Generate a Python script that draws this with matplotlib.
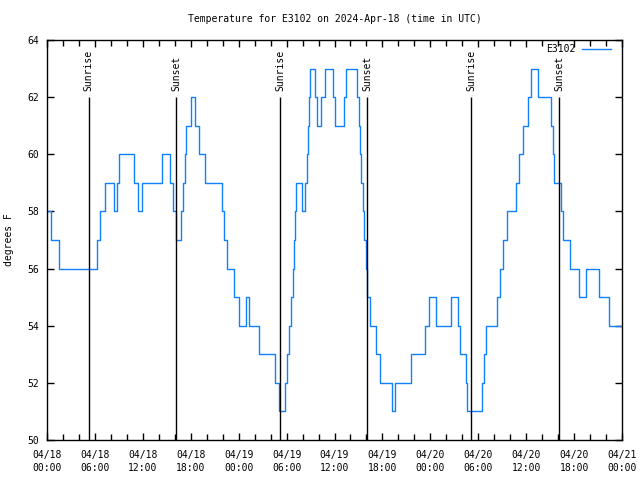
import numpy as np
import matplotlib
matplotlib.use("Agg")
import matplotlib.pyplot as plt
import matplotlib.dates as mdates
from datetime import datetime, timedelta

# hours since 2024-04-18 00:00 UTC, temperature in F
hours = [0.0, 0.38, 0.66, 1.41, 1.67, 6.14, 6.42, 6.92, 7.48, 8.23, 8.51, 8.73,
         8.89, 9.23, 10.68, 11.02, 11.23, 11.52, 11.73, 11.98, 14.24, 14.49,
         15.19, 15.49, 15.99, 16.44, 16.69, 16.90, 17.15, 17.30, 17.47, 17.91,
         18.19, 18.41, 18.66, 18.95, 19.22, 19.57, 20.0, 21.75, 22.0, 22.41,
         22.70, 23.13, 23.67, 23.92, 24.17, 24.71, 25.01, 25.1, 25.42, 26.46,
         26.67, 28.46, 28.76, 28.93, 29.21, 29.71, 29.90, 30.21, 30.46, 30.65,
         30.84, 31.00, 31.15, 31.27, 31.72, 32.02, 32.22, 32.43, 32.56, 32.68,
         32.81, 32.93, 33.47, 33.77, 33.97, 34.27, 34.47, 34.72, 35.02, 35.78,
         35.94, 36.06, 37.10, 37.40, 37.60, 38.78, 38.94, 39.10, 39.26, 39.44,
         39.63, 39.82, 39.98, 40.11, 40.37, 40.53, 41.07, 41.28, 41.61, 41.91,
         43.16, 43.36, 43.78, 45.37, 45.67, 47.12, 47.5, 48.07, 48.57, 48.92,
         50.38, 50.68, 51.38, 51.59, 51.84, 52.34, 52.53, 52.68, 54.35, 54.60,
         54.85, 55.14, 56.10, 56.48, 56.94, 57.35, 57.89, 58.60, 58.82, 59.32,
         59.85, 60.07, 60.39, 60.89, 61.39, 61.65, 62.99, 63.24, 63.42, 63.61,
         64.15, 64.45, 64.86, 65.40, 65.70, 66.40, 66.95, 67.37, 67.71, 68.96,
         69.16, 70.21, 70.50, 71.88]
temps = [58, 58, 57, 57, 56, 56, 57, 58, 59, 59, 58, 58,
         59, 60, 60, 59, 59, 58, 58, 59, 59, 60,
         60, 59, 58, 57, 57, 58, 59, 60, 61, 61,
         62, 62, 61, 61, 60, 60, 59, 59, 58, 57,
         56, 56, 55, 55, 54, 54, 55, 55, 54, 54,
         53, 53, 52, 52, 51, 51, 52, 53, 54, 55,
         56, 57, 58, 59, 59, 58, 58, 59, 60, 61,
         62, 63, 63, 62, 61, 61, 62, 62, 63, 63,
         62, 61, 61, 62, 63, 63, 62, 61, 60, 59,
         58, 57, 56, 55, 55, 54, 54, 53, 53, 52,
         52, 51, 52, 52, 53, 53, 54, 55, 55, 54,
         54, 55, 55, 54, 53, 53, 52, 51, 51, 52,
         53, 54, 54, 55, 56, 57, 58, 58, 59, 60,
         61, 61, 62, 63, 63, 62, 62, 61, 60, 59,
         59, 58, 57, 57, 56, 56, 55, 55, 56, 56,
         55, 55, 54, 54]

sunrise_h = [5.22, 29.2, 53.15]
sunset_h = [16.2, 40.13, 64.15]

t0 = datetime(2024, 4, 18)
times = [t0 + timedelta(hours=h) for h in hours]

plt.rcParams['font.family'] = 'DejaVu Sans Mono'
plt.rcParams['font.size'] = 7

fig = plt.figure(figsize=(6.4, 4.8), dpi=100)
ax = fig.add_axes([47 / 640, 40 / 480, 575 / 640, 400 / 480])

ax.plot(times, temps, color='#1080ff', lw=1.0, label='E3102',
        drawstyle='steps-mid')

for h in sunrise_h:
    x = t0 + timedelta(hours=h)
    ax.vlines(x, 50, 62, color='black', lw=1.0)
    ax.text(x, 62.2, 'Sunrise', rotation=90, ha='center', va='bottom')
for h in sunset_h:
    x = t0 + timedelta(hours=h)
    ax.vlines(x, 50, 62, color='black', lw=1.0)
    ax.text(x, 62.2, 'Sunset', rotation=90, ha='center', va='bottom')

ax.set_xlim(t0, t0 + timedelta(hours=72))
ax.set_ylim(50, 64)
ax.set_yticks(range(50, 65, 2))
ax.xaxis.set_major_locator(mdates.HourLocator(byhour=[0, 6, 12, 18]))
ax.xaxis.set_minor_locator(mdates.HourLocator(byhour=range(0, 24, 2)))
ax.xaxis.set_major_formatter(mdates.DateFormatter('%m/%d\n%H:%M'))
ax.tick_params(which='both', direction='in', top=True, right=True, width=1)
ax.tick_params(which='major', length=5)
ax.tick_params(which='minor', length=4)
ax.tick_params(axis='x', which='major', pad=7)
ax.tick_params(axis='y', which='major', pad=6)
for lbl in ax.get_xticklabels():
    lbl.set_linespacing(1.35)
for s in ax.spines.values():
    s.set_linewidth(1.0)

ax.set_ylabel('degrees F', labelpad=9)
fig.text(334.5 / 640, 1 - 19 / 480,
         'Temperature for E3102 on 2024-Apr-18 (time in UTC)',
         ha='center', va='center')
ax.legend(loc='upper right', bbox_to_anchor=(1 - 11 / 575, 1 - 4 / 400),
          frameon=False, markerfirst=False, handlelength=2.95,
          borderaxespad=0, borderpad=0, handletextpad=0.7)

fig.savefig('out.png', dpi=100)
